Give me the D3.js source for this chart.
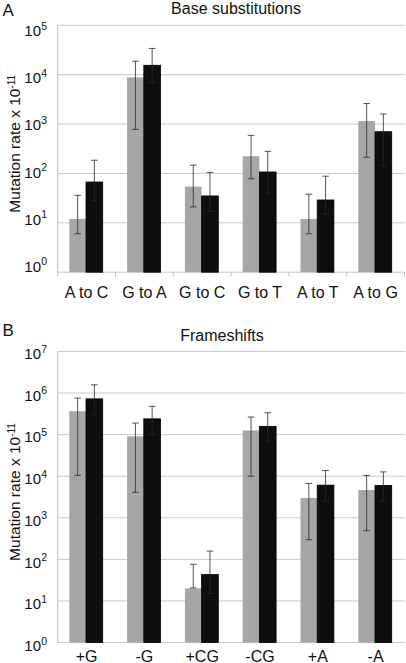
<!DOCTYPE html>
<html><head><meta charset="utf-8">
<script src="https://cdn.jsdelivr.net/npm/d3@7"></script>
<style>body{margin:0;background:#fff;} text{font-family:"Liberation Sans",Arial,Helvetica,sans-serif;fill:#111;}</style>
</head><body>
<svg id="c" width="406" height="663"></svg>
<script>
// Panel A: base substitutions
const catsA = ["A to C","G to A","G to C","G to T","A to T","A to G"];
const grayA   = [12, 8800, 54, 223, 12, 1150];
const grayALo = [6, 780, 21, 78, 6, 213];
const grayAHi = [36, 18700, 147, 590, 38, 2600];
const blackA   = [67, 15500, 35, 107, 29, 700];
const blackALo = [28, 7000, 17, 40, 15, 141];
const blackAHi = [185, 34000, 105, 280, 88, 1600];
const ticksA = [0,1,2,3,4,5];

// Panel B: frameshifts
const catsB = ["+G","-G","+CG","-CG","+A","-A"];
const grayB   = [365000, 91000, 20, 126000, 3000, 4650];
const grayBLo = [10500, 4100, 20.5, 10000, 296, 490];
const grayBHi = [760000, 190000, 76, 265000, 6700, 10500];
const blackB   = [725000, 240000, 43, 158000, 6100, 6000];
const blackBLo = [300000, 100000, 15, 70000, 2500, 2500];
const blackBHi = [1580000, 480000, 158, 336000, 13800, 12700];
const ticksB = [0,1,2,3,4,5,6,7];

const series = ["gray","black"];
const colors = {gray:"#a6a6a6", black:"#0e0e0e"};
const svg = d3.select("#c");

function panel(o){
  const g = svg.append("g");
  const x0 = d3.scaleBand().domain(o.cats).range([57.7, 404.5]).padding(0);
  const x1 = d3.scaleBand().domain(series).range([11.6, 11.6+33.4]);
  const dom = [1, Math.pow(10, o.ticks[o.ticks.length-1])];
  const y = d3.scaleLog().domain(dom).range([o.bottom, o.top]);
  const yLab = d3.scaleLog().domain(dom).range([o.bottom + o.labOff[0], o.top + o.labOff[1]]);
  // gridlines
  g.selectAll(".grid").data(o.ticks).join("line")
    .attr("x1", 57.7).attr("x2", 405).attr("y1", d=>y(Math.pow(10,d))).attr("y2", d=>y(Math.pow(10,d)))
    .attr("stroke", "#c9c9c9").attr("stroke-width", 1);
  // left axis line
  g.append("line").attr("x1",57.7).attr("x2",57.7).attr("y1",o.top).attr("y2",o.bottom)
    .attr("stroke","#bdbdbd");
  // bottom ticks
  if(o.xticks){
    const b = o.cats.map(c=>x0(c)).concat([x0.range()[1]]);
    g.selectAll(".xt").data(b).join("line")
      .attr("x1",d=>d).attr("x2",d=>d).attr("y1",o.bottom).attr("y2",o.bottom+4)
      .attr("stroke","#bdbdbd");
  }
  // y tick labels
  g.selectAll(".yl").data(o.ticks).join("text")
    .attr("x", 41).attr("y", d=>yLab(Math.pow(10,d)))
    .attr("text-anchor","end").attr("font-size",15).text("10");
  g.selectAll(".ys").data(o.ticks).join("text")
    .attr("x", 41.3).attr("y", d=>yLab(Math.pow(10,d))-6.5)
    .attr("font-size",10.5).text(d=>d);
  // bars
  const rows = o.cats.map((c,i)=>({c, gray:o.g[i], gLo:o.gLo[i], gHi:o.gHi[i], black:o.b[i], bLo:o.bLo[i], bHi:o.bHi[i]}));
  const grp = g.selectAll(".grp").data(rows).join("g").attr("transform", d=>`translate(${x0(d.c)},0)`);
  grp.selectAll("rect").data(d=>series.map(s=>({s, v:d[s]}))).join("rect")
    .attr("x", d=>x1(d.s)).attr("width", x1.bandwidth())
    .attr("y", d=>y(d.v)).attr("height", d=>o.bottom - y(d.v))
    .attr("fill", d=>colors[d.s])
    .attr("stroke", d=>d.s==="black" ? "#000" : "none").attr("stroke-width", 0.8);
  const errs = grp.selectAll(".err").data(d=>[
      {s:"gray", lo:d.gLo, hi:d.gHi}, {s:"black", lo:d.bLo, hi:d.bHi}]).join("g")
    .attr("transform", d=>`translate(${x1(d.s)+x1.bandwidth()/2},0)`);
  const ec = "#2a2a2a";
  errs.append("line").attr("y1", d=>y(d.lo)).attr("y2", d=>y(d.hi)).attr("stroke",ec).attr("stroke-width",0.8);
  errs.append("line").attr("x1",-3.3).attr("x2",3.3).attr("y1", d=>y(d.lo)).attr("y2", d=>y(d.lo)).attr("stroke",ec).attr("stroke-width",0.8);
  errs.append("line").attr("x1",-3.3).attr("x2",3.3).attr("y1", d=>y(d.hi)).attr("y2", d=>y(d.hi)).attr("stroke",ec).attr("stroke-width",0.8);
  // x labels
  g.selectAll(".xl").data(o.cats).join("text")
    .attr("x", d=>x0(d)+x0.bandwidth()/2).attr("y", o.xlabY)
    .attr("text-anchor","middle").attr("font-size",16).text(d=>d);
  // title and panel letter
  g.append("text").attr("x", o.titleX).attr("y", o.titleY).attr("text-anchor","middle")
    .attr("font-size",16).text(o.title);
  g.append("text").attr("x", 2.5).attr("y", o.letterY).attr("font-size",17).text(o.letter);
  // y label
  const cy = (o.top+o.bottom)/2 - 5;
  const yl = g.append("text").attr("transform", `translate(20,${cy}) rotate(-90)`)
    .attr("text-anchor","middle").attr("font-size",15.5);
  yl.append("tspan").text("Mutation rate x 10");
  yl.append("tspan").attr("dy",-5.5).attr("font-size",10).text("-11");
}

panel({cats:catsA, g:grayA, gLo:grayALo, gHi:grayAHi, b:blackA, bLo:blackALo, bHi:blackAHi,
  ticks:ticksA, top:25.3, bottom:272.2, labOff:[-0.5, 11], xticks:true, xlabY:298, title:"Base substitutions",
  titleX:236, titleY:14, letter:"A", letterY:16});
panel({cats:catsB, g:grayB, gLo:grayBLo, gHi:grayBHi, b:blackB, bLo:blackBLo, bHi:blackBHi,
  ticks:ticksB, top:351.5, bottom:642.5, labOff:[8.5, 7.5], xticks:false, xlabY:661.5, title:"Frameshifts",
  titleX:222, titleY:340.5, letter:"B", letterY:335.5});
</script>
</body></html>
